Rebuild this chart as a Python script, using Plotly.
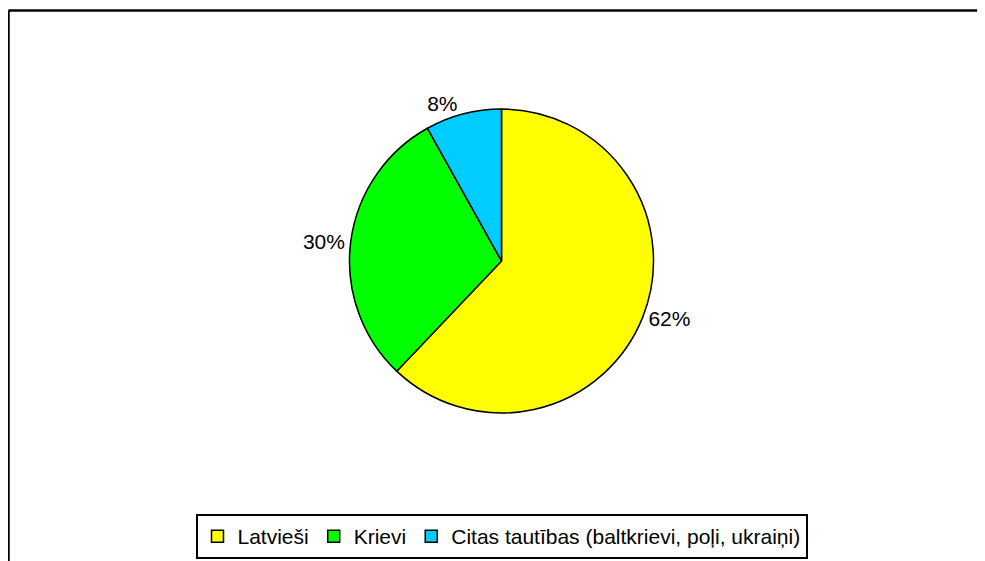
import plotly.graph_objects as go

categories = ["Latvieši", "Krievi", "Citas tautības (baltkrievi, poļi, ukraiņi)"]
values = [62.1, 29.8, 8.1]
colors = ["#FFFF00", "#00FF00", "#00CCFF"]

W, H = 985, 561
OFF = 8  # page body margin in the browser
FONT = "Liberation Sans, Arial, sans-serif"

# pie geometry in screen pixels
CX, CY, R = 501.5 - OFF, 261 - OFF, 152

fig = go.Figure(go.Pie(
    labels=categories,
    values=values,
    sort=False,
    direction="clockwise",
    rotation=0,
    marker=dict(colors=colors, line=dict(color="black", width=1.5)),
    textinfo="percent",
    texttemplate="%{percent:.0%}",
    textposition="outside",
    outsidetextfont=dict(family=FONT, size=21, color="black"),
    domain=dict(x=[(CX - R) / W, (CX + R) / W],
                y=[(H - CY - R) / H, (H - CY + R) / H]),
    hoverinfo="label+percent",
))

fig.update_layout(
    width=W, height=H,
    margin=dict(l=0, r=0, t=0, b=0),
    paper_bgcolor="white",
    plot_bgcolor="white",
    font=dict(family=FONT, size=21, color="black"),
    showlegend=True,
    legend=dict(
        orientation="h",
        x=(501.5 - OFF) / W, xanchor="center",
        y=(H - (514 - OFF)) / H, yanchor="top",
        bordercolor="black", borderwidth=2,
        bgcolor="white",
        font=dict(family=FONT, size=21, color="black"),
        itemwidth=30,
        traceorder="normal",
    ),
    shapes=[
        dict(type="line", xref="paper", yref="paper",
             x0=0.5 / W, x1=1.05, y0=(H - 2.5) / H, y1=(H - 2.5) / H,
             line=dict(color="black", width=2.5)),
        dict(type="line", xref="paper", yref="paper",
             x0=0.5 / W, x1=0.5 / W, y0=-0.05, y1=(H - 2.5) / H,
             line=dict(color="black", width=2.5)),
    ],
)

fig.write_html("out.html")
